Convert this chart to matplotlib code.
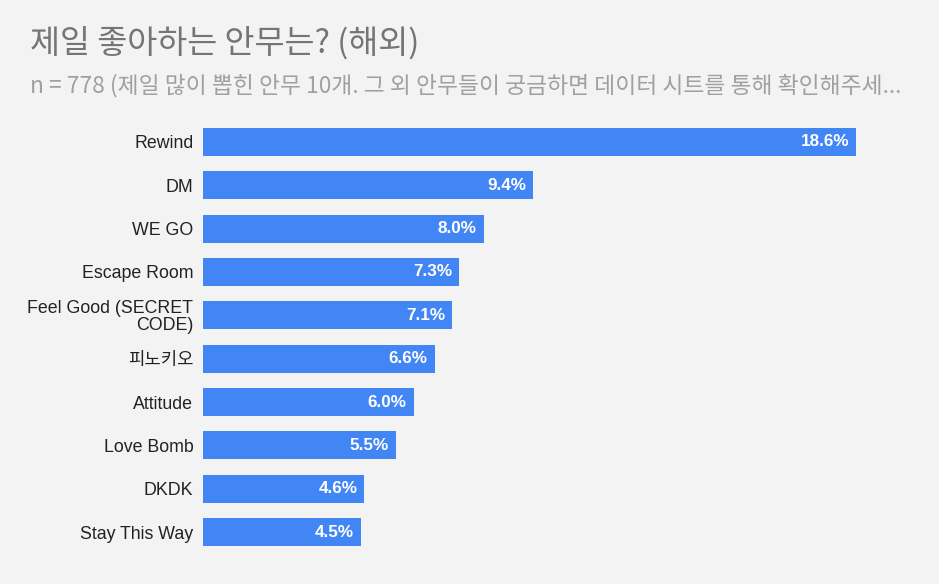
import matplotlib
matplotlib.use("Agg")
import matplotlib.pyplot as plt

plt.rcParams['font.family'] = ['Liberation Sans', 'Noto Sans CJK KR', 'DejaVu Sans']

categories = ["Rewind", "DM", "WE GO", "Escape Room", "Feel Good (SECRET\nCODE)",
              "피노키오", "Attitude", "Love Bomb", "DKDK", "Stay This Way"]
values = [18.6, 9.4, 8.0, 7.3, 7.1, 6.6, 6.0, 5.5, 4.6, 4.5]
value_labels = ["18.6%", "9.4%", "8.0%", "7.3%", "7.1%", "6.6%", "6.0%", "5.5%", "4.6%", "4.5%"]
title = "제일 좋아하는 안무는? (해외)"
subtitle = "n = 778 (제일 많이 뽑힌 안무 10개. 그 외 안무들이 궁금하면 데이터 시트를 통해 확인해주세..."

BG = "#f3f3f3"
BAR = "#4285f4"

fig = plt.figure(figsize=(9.39, 5.84), dpi=100, facecolor=BG)
ax = fig.add_axes([203/939, 1-553.7/584, 653/939, (553.7-120.3)/584])
ax.set_facecolor(BG)

n = len(categories)
ypos = list(range(n))
ax.barh(ypos, values, height=0.65, color=BAR, zorder=2)
ax.set_xlim(0, values[0])
ax.set_ylim(n - 0.5, -0.5)

for y, v, lab in zip(ypos, values, value_labels):
    ax.annotate(lab, xy=(v, y), xytext=(-5, 0), textcoords="offset points",
                ha="right", va="center", color="white", fontsize=12.3, fontweight="bold",
                family=['Liberation Sans', 'DejaVu Sans'])

ax.set_yticks(ypos)
labels = ax.set_yticklabels(categories, fontsize=12.8, color="#222222", linespacing=0.95,
                            family=['Liberation Sans', 'Noto Sans CJK KR', 'DejaVu Sans'])
for t in labels:
    t.set_multialignment('right')
ax.tick_params(axis='y', length=0, pad=7)
ax.set_xticks([])
for s in ax.spines.values():
    s.set_visible(False)

fig.text(30/939, 1-43/584, title, fontsize=23.5, color="#757575", va="center", ha="left",
         family=['Noto Sans CJK KR', 'DejaVu Sans'])
fig.text(30/939, 1-86/584, subtitle, fontsize=16.4, color="#a0a0a0", va="center", ha="left",
         family=['Noto Sans CJK KR', 'DejaVu Sans'])

fig.savefig("out.png", dpi=100, facecolor=BG)
